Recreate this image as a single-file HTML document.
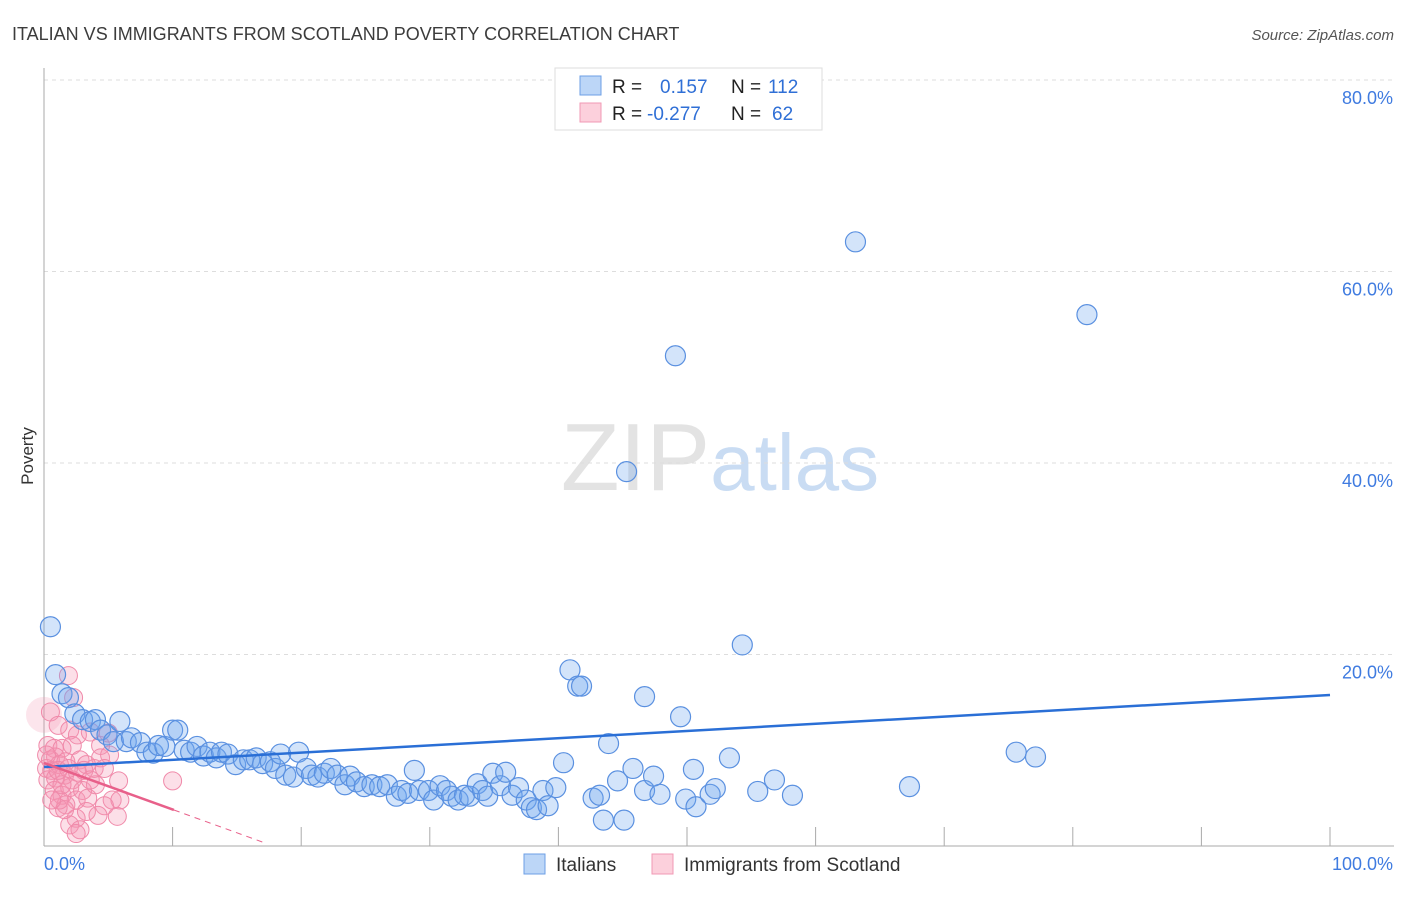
<!DOCTYPE html>
<html><head><meta charset="utf-8"><style>
body{margin:0;background:#fff;font-family:"Liberation Sans",sans-serif;}
svg text{font-family:"Liberation Sans",sans-serif;}
</style></head><body>
<svg id="chart" width="1406" height="892" xmlns="http://www.w3.org/2000/svg">
<text x="12" y="40" font-size="18" fill="#3c3c3c">ITALIAN VS IMMIGRANTS FROM SCOTLAND POVERTY CORRELATION CHART</text>
<text x="1394" y="40" font-size="15" fill="#555" text-anchor="end" font-style="italic">Source: ZipAtlas.com</text>
<text x="720" y="490" font-size="96" text-anchor="middle" fill="#e3e3e3" font-family="Liberation Serif">ZIP<tspan fill="#c9dcf3" font-family="Liberation Sans" font-size="80">atlas</tspan></text>
<text transform="translate(33,456) rotate(-90)" font-size="17" fill="#333" text-anchor="middle">Poverty</text>
<g id="grid"></g><g id="axes"></g><g id="pink"></g><g id="blue"></g><g id="lines"></g>
<g>
<rect x="555" y="68" width="267" height="62" fill="#fff" stroke="#ddd"/>
<rect x="580" y="76" width="21" height="19" fill="#bcd6f7" stroke="#6c9fe6"/>
<rect x="580" y="103" width="21" height="19" fill="#fcd0dc" stroke="#f199b4"/>
<text x="612" y="93" font-size="19" fill="#222">R =  <tspan fill="#2f6fd6" x="660">0.157</tspan><tspan x="731" fill="#222">N = </tspan><tspan fill="#2f6fd6" x="768">112</tspan></text>
<text x="612" y="120" font-size="19" fill="#222">R = <tspan fill="#2f6fd6" x="647">-0.277</tspan><tspan x="731" fill="#222">N = </tspan><tspan fill="#2f6fd6" x="772">62</tspan></text>
</g>
<g>
<rect x="524" y="854" width="21" height="20" fill="#bcd6f7" stroke="#6c9fe6"/>
<text x="556" y="871" font-size="19" fill="#333">Italians</text>
<rect x="652" y="854" width="21" height="20" fill="#fcd0dc" stroke="#f199b4"/>
<text x="684" y="871" font-size="19" fill="#333">Immigrants from Scotland</text>
</g>
</svg>
<script>
const yTicks=[20,40,60,80];
const yTickLabels=["20.0%","40.0%","60.0%","80.0%"];
const xTickVals=[0,10,20,30,40,50,60,70,80,90,100];
const blueX=[0.5,0.9,1.4,1.9,2.4,3.0,3.6,4.0,4.4,4.9,5.4,5.9,6.4,6.8,7.5,8.0,8.5,8.9,9.4,10.0,10.4,10.9,11.4,11.9,12.4,12.9,13.4,13.8,14.3,14.9,15.5,16.0,16.5,17.0,17.6,18.0,18.4,18.8,19.4,19.8,20.4,20.8,21.3,21.8,22.3,22.8,23.4,23.8,24.3,24.9,25.5,26.1,26.7,27.4,27.8,28.3,28.8,29.2,29.9,30.3,30.8,31.3,31.7,32.2,32.7,33.1,33.7,34.1,34.5,34.9,35.5,35.9,36.4,36.9,37.5,37.9,38.3,38.8,39.2,39.8,40.4,40.9,41.5,41.8,42.7,43.2,43.5,43.9,44.6,45.1,45.8,46.7,46.7,47.4,47.9,49.5,49.1,49.9,50.5,50.7,51.8,52.2,53.3,54.3,55.5,56.8,58.2,63.1,45.3,81.1,67.3,75.6,77.1];
const blueY=[22.9,17.9,15.9,15.5,13.8,13.2,13.0,13.2,12.1,11.6,10.9,13.0,10.9,11.3,10.8,9.8,9.7,10.5,10.4,12.1,12.1,10.0,9.8,10.4,9.4,9.8,9.2,9.8,9.6,8.5,9.0,9.0,9.2,8.6,8.8,8.1,9.6,7.4,7.2,9.8,8.1,7.4,7.2,7.6,8.1,7.4,6.4,7.3,6.7,6.2,6.4,6.2,6.4,5.2,5.8,5.5,7.9,5.8,5.8,4.8,6.3,5.8,5.2,4.8,5.3,5.2,6.5,5.8,5.2,7.6,6.3,7.7,5.3,6.1,4.8,4.0,3.8,5.8,4.2,6.1,8.7,18.4,16.7,16.7,5.0,5.3,2.7,10.7,6.8,2.7,8.1,15.6,5.8,7.3,5.4,13.5,51.2,4.9,8.0,4.1,5.4,6.0,9.2,21.0,5.7,6.9,5.3,63.1,39.1,55.5,6.2,9.8,9.3];
const pinkX=[1.9,2.3,0.5,1.1,2.0,2.6,3.6,4.4,5.0,0.3,0.8,1.4,2.2,0.5,0.9,0.2,0.6,1.2,1.7,2.8,3.3,3.9,4.4,5.1,0.3,0.9,1.6,2.2,2.6,3.1,0.8,1.4,2.0,2.5,1.7,1.1,3.0,3.4,4.0,4.7,5.8,5.3,5.9,5.7,4.7,4.2,2.5,2.0,2.8,2.5,3.3,1.2,1.6,10.0,1.4,0.6,3.6,0.2,1.1,1.9];
const pinkY=[17.8,15.5,14.0,12.6,12.1,11.6,11.9,10.5,11.8,10.5,10.2,10.2,10.5,9.0,9.3,8.1,7.9,8.5,8.8,9.0,8.5,8.1,9.2,9.5,6.9,7.1,7.4,6.9,7.7,7.9,5.8,5.3,6.1,4.8,4.3,4.0,5.8,5.0,6.4,8.1,6.8,4.8,4.8,3.1,4.2,3.2,2.9,2.2,1.7,1.3,3.6,4.8,3.8,6.8,6.4,4.8,6.9,9.5,7.9,8.1];
const blueTrend=[8.25,15.77];
const pinkTrend=[8.67,-0.486];
const NS="http://www.w3.org/2000/svg";
const X0=44,X1=1330,Y0=846,Y80=80;
const sx=v=>X0+(X1-X0)*v/100;
const sy=v=>Y0-(Y0-Y80)*v/80;
function mk(p,t,a){const e=document.createElementNS(NS,t);for(const k in a)e.setAttribute(k,a[k]);document.getElementById(p).appendChild(e);return e;}
yTicks.forEach((t,i)=>{
 const l=mk('grid','line',{x1:X0,x2:1394,y1:sy(t),y2:sy(t),stroke:'#ddd','stroke-dasharray':'4,4'});
 
 
 const tx=mk('grid','text',{x:1393,y:sy(t)+24,'font-size':18,fill:'#3f7be0','text-anchor':'end'});
 tx.textContent=yTickLabels[i];
 
 
});
const ax=mk('axes','line',{x1:X0,x2:X0,y1:68,y2:Y0,stroke:'#aaa'});


const bx=mk('axes','line',{x1:X0,x2:1394,y1:Y0,y2:Y0,stroke:'#aaa'});


xTickVals.forEach(t=>{
 const l=mk('axes','line',{x1:sx(t),x2:sx(t),y1:Y0,y2:Y0-19,stroke:'#aaa'});
 
 
});
const xl0=mk('axes','text',{x:44,y:870,'font-size':18,fill:'#3f7be0'});xl0.textContent='0.0%';


const xl1=mk('axes','text',{x:1393,y:870,'font-size':18,fill:'#3f7be0','text-anchor':'end'});xl1.textContent='100.0%';


const big=mk('pink','circle',{cx:sx(0),cy:sy(13.7),r:18,fill:'rgba(245,150,180,0.25)',stroke:'none'});


pinkX.forEach((x,i)=>{
 const c=mk('pink','circle',{cx:sx(x),cy:sy(pinkY[i]),r:9,fill:'rgba(245,150,180,0.3)',stroke:'#f08aaa','stroke-width':1});
 
 
});
blueX.forEach((x,i)=>{
 const c=mk('blue','circle',{cx:sx(x),cy:sy(blueY[i]),r:10,fill:'rgba(110,165,240,0.3)',stroke:'#5a90e0','stroke-width':1.2});
 
 
});
const bl=mk('lines','line',{x1:sx(0),y1:sy(blueTrend[0]),x2:sx(100),y2:sy(blueTrend[1]),stroke:'#2a6fd6','stroke-width':2.5});


const pf=x=>pinkTrend[0]+pinkTrend[1]*x;
const pl=mk('lines','line',{x1:sx(0),y1:sy(pf(0)),x2:sx(10.1),y2:sy(pf(10.1)),stroke:'#e8608a','stroke-width':2.5});


const pd=mk('lines','line',{x1:sx(10.1),y1:sy(pf(10.1)),x2:sx(17.0),y2:sy(pf(17.0)),stroke:'#e8608a','stroke-width':1,'stroke-dasharray':'6,5'});


</script>
</body></html>
